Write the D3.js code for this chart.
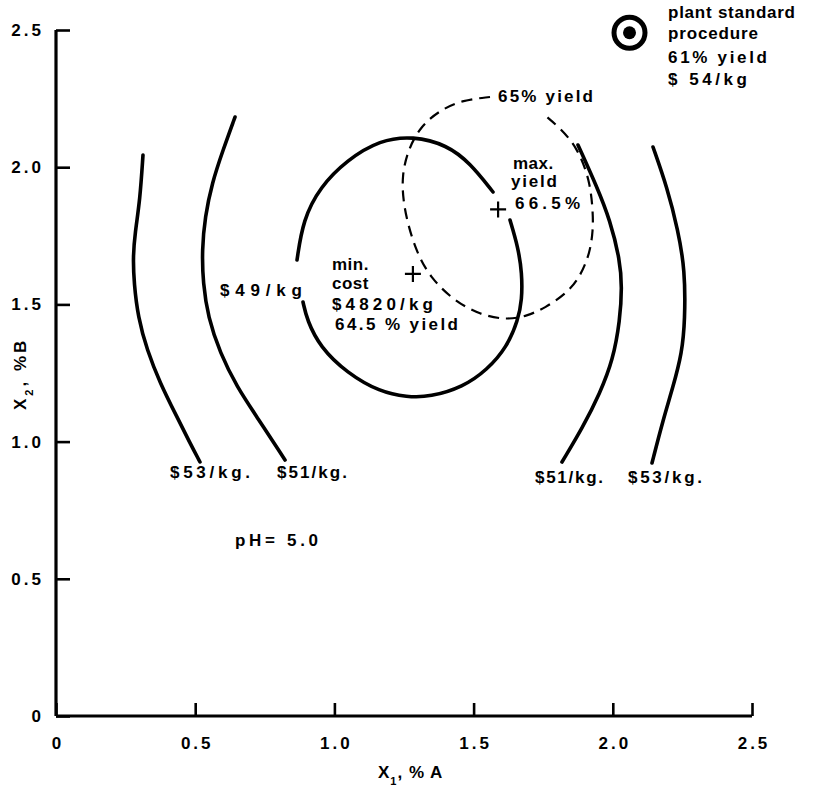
<!DOCTYPE html>
<html>
<head>
<meta charset="utf-8">
<script src="https://cdn.jsdelivr.net/npm/d3@7"></script>
<style>
  html, body { margin: 0; padding: 0; background: #fff; }
  svg { display: block; }
  text { font-family: "Liberation Sans", Arial, sans-serif; font-weight: bold; fill: #000; }
</style>
</head>
<body>
<svg id="chart" width="829" height="787"></svg>
<script>
// ---- data (x1 = % A, x2 = % B) ----
const xTicks = [0, 0.5, 1.0, 1.5, 2.0, 2.5];
const yTicks = [0, 0.5, 1.0, 1.5, 2.0, 2.5];
const xTickLabels = ["0", "0.5", "1.0", "1.5", "2.0", "2.5"];
const yTickLabels = ["0", "0.5", "1.0", "1.5", "2.0", "2.5"];

// $53/kg cost contour, left branch
const cost53Left = [[0.3125,2.0445],[0.3017,1.8805],[0.2838,1.7602],[0.2766,1.6727],[0.2802,1.5780],[0.2945,1.4541],[0.3269,1.3338],[0.3736,1.2136],[0.4346,1.0896],[0.4813,0.9949],[0.5172,0.9257]];
// $51/kg cost contour, left branch
const cost51Left = [[0.6430,2.1829],[0.5999,2.0627],[0.5603,1.9424],[0.5352,1.8185],[0.5244,1.6983],[0.5280,1.5780],[0.5460,1.4541],[0.5891,1.3229],[0.6501,1.1990],[0.7220,1.0896],[0.8226,0.9329]];
// $49/kg closed cost contour (drawn in two pieces, broken at the labels)
const cost49Upper = [[1.5697,1.9096],[1.4871,2.0153],[1.4045,2.0809],[1.2823,2.1137],[1.1638,2.0991],[1.0453,2.0262],[0.9483,1.9278],[0.8872,1.8076],[0.8657,1.6618]];
const cost49Lower = [[0.8872,1.5087],[0.9016,1.4431],[0.9483,1.3448],[1.0453,1.2500],[1.1638,1.1808],[1.2608,1.1625],[1.3434,1.1625],[1.4619,1.1990],[1.5481,1.2609],[1.6200,1.3448],[1.6595,1.4431],[1.6739,1.5160],[1.6739,1.6144],[1.6595,1.7092],[1.6307,1.8076]];
// $51/kg and $53/kg cost contours, right branches
const cost51Right = [[1.8750,2.0809],[1.9433,1.9278],[1.9899,1.8076],[2.0259,1.6618],[2.0330,1.5634],[2.0259,1.4431],[2.0007,1.2974],[1.9540,1.1771],[1.8930,1.0532],[1.8175,0.9257]];
const cost53Right = [[2.1444,2.0736],[2.1947,1.9278],[2.2342,1.7711],[2.2593,1.6254],[2.2593,1.4431],[2.2486,1.3229],[2.2163,1.1990],[2.1804,1.0787],[2.1408,0.9220]];
// 65 % yield contour
const yield65 = [[1.5589,2.2558],[1.4619,2.2449],[1.3793,2.2085],[1.3075,2.1465],[1.2644,2.0627],[1.2428,1.9716],[1.2464,1.8805],[1.2644,1.7894],[1.2967,1.6873],[1.3434,1.5998],[1.4260,1.5160],[1.5230,1.4614],[1.6200,1.4431],[1.6918,1.4577],[1.7565,1.4869],[1.8355,1.5415],[1.8822,1.5998],[1.9181,1.6873],[1.9289,1.7711],[1.9289,1.8331],[1.9181,1.9534],[1.8714,2.0736],[1.8103,2.1429],[1.7636,2.1829]];

const minCost = [1.282, 1.611];
const maxYield = [1.588, 1.846];
const plantStandard = [2.06, 2.49];

// ---- layout ----
const svg = d3.select("#chart");
const x = d3.scaleLinear().domain([0, 2.5]).range([56, 752]);
const y = d3.scaleLinear().domain([0, 2.5]).range([716, 30]);

const line = d3.line().x(d => x(d[0])).y(d => y(d[1])).curve(d3.curveBasis);

// axes
const xAxis = d3.axisBottom(x).tickValues(xTicks).tickSize(-13).tickFormat((d, i) => xTickLabels[i]).tickPadding(18);
const yAxis = d3.axisLeft(y).tickValues(yTicks).tickSize(-14).tickFormat((d, i) => yTickLabels[i]).tickPadding(24);

const gx = svg.append("g").attr("transform", `translate(0,${y(0)})`).call(xAxis);
const gy = svg.append("g").attr("transform", `translate(${x(0)},0)`).call(yAxis);
[gx, gy].forEach(g => {
  g.select(".domain").attr("stroke", "#000").attr("stroke-width", 3.2);
  g.selectAll(".tick line").attr("stroke", "#000").attr("stroke-width", 2.6);
  g.selectAll(".tick text").style("font-family", '"Liberation Sans", Arial, sans-serif')
    .style("font-weight", "bold").style("font-size", "17px").attr("fill", "#000").style("letter-spacing", "3px");
});
gx.select(".domain").attr("d", `M${x(0)},0H${x(2.5)}`);
gy.select(".domain").attr("d", `M0,${y(2.5)}V${y(0)}`);
gx.selectAll(".tick text").attr("dy", "0.9em").attr("dx", "1.5");
gy.selectAll(".tick text").attr("text-anchor", "end").attr("dx", "12");

// contours
const solid = [cost53Left, cost51Left, cost49Upper, cost49Lower, cost51Right, cost53Right];
svg.append("g").selectAll("path").data(solid).join("path")
  .attr("d", line).attr("fill", "none").attr("stroke", "#000")
  .attr("stroke-width", 3.6).attr("stroke-linecap", "round");

svg.append("path").attr("d", line(yield65)).attr("fill", "none").attr("stroke", "#000")
  .attr("stroke-width", 2.2).attr("stroke-dasharray", "11,7");

// crosses
function cross(p) {
  const cx = x(p[0]), cy = y(p[1]), s = 8;
  svg.append("path").attr("d", `M${cx - s},${cy}H${cx + s}M${cx},${cy - s}V${cy + s}`)
    .attr("stroke", "#000").attr("stroke-width", 2.2);
}
cross(minCost);
cross(maxYield);

// plant standard bullseye
svg.append("circle").attr("cx", x(plantStandard[0])).attr("cy", y(plantStandard[1])).attr("r", 15.5)
  .attr("fill", "none").attr("stroke", "#000").attr("stroke-width", 5);
svg.append("circle").attr("cx", x(plantStandard[0])).attr("cy", y(plantStandard[1])).attr("r", 6.5).attr("fill", "#000");

// annotations: text, left x, baseline y, rendered width (null = natural)
const labels = [
  ["plant standard", 668, 18, 127], ["procedure", 668, 39, 90], ["61%  yield", 668, 63, 99], ["$ 54/kg", 668, 85, 79],
  ["65% yield", 498, 102, 95],
  ["max.", 513, 169, null], ["yield", 511, 187, 46], ["66.5%", 515, 209, 65],
  ["min.", 332, 270, null], ["cost", 332, 289, null], ["$4820/kg", 332, 310, 101], ["64.5 % yield", 335, 330, 123],
  ["$49/kg", 220, 296, 82],
  ["$53/kg.", 170, 478, 80], ["$51/kg.", 277, 478, 70], ["$51/kg.", 535, 483, 68], ["$53/kg.", 628, 483, 74],
  ["pH= 5.0", 235, 546, 83]
];
svg.append("g").selectAll("text").data(labels).join("text")
  .attr("x", d => d[1]).attr("y", d => d[2]).text(d => d[0])
  .attr("textLength", d => d[3]).attr("lengthAdjust", d => d[3] ? "spacing" : null)
  .style("font-size", "17px").style("letter-spacing", d => d[3] ? null : "0.5px");

// axis titles
const xt = svg.append("text").attr("x", 378).attr("y", 778).style("font-size", "17px").style("letter-spacing", "1px");
xt.append("tspan").text("X");
xt.append("tspan").attr("dy", 7).style("font-size", "11px").text("1");
xt.append("tspan").attr("dy", -7).text(", % A");

const yt = svg.append("text").attr("transform", "translate(26,410) rotate(-90)").style("font-size", "17px").style("letter-spacing", "3px");
yt.append("tspan").text("X");
yt.append("tspan").attr("dy", 7).style("font-size", "11px").text("2");
yt.append("tspan").attr("dy", -7).text(", %B");
</script>
</body>
</html>
